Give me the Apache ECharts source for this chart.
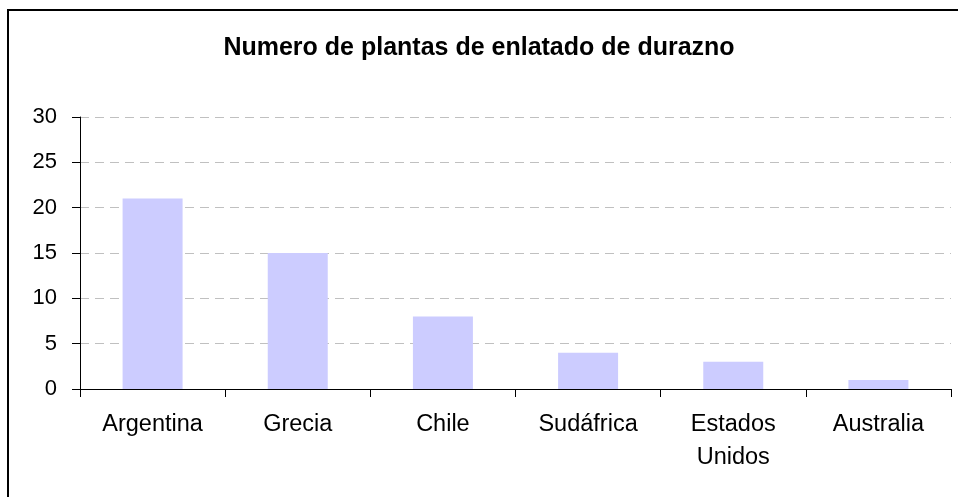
<!DOCTYPE html>
<html>
<head>
<meta charset="utf-8">
<script src="https://cdn.jsdelivr.net/npm/echarts@6/dist/echarts.min.js"></script>
<style>
  html, body { margin: 0; padding: 0; background: #fff; }
  #chart { width: 958px; height: 497px; }
</style>
</head>
<body>
<div id="chart"></div>
<script>
// datos del grafico
var paises = ['Argentina', 'Grecia', 'Chile', 'Sudáfrica', 'Estados\nUnidos', 'Australia'];
var plantas = [21, 15, 8, 4, 3, 1];

var myChart = echarts.init(document.getElementById('chart'));

var option = {
  backgroundColor: '#fff',
  animation: false,
  title: {
    text: 'Numero de plantas de enlatado de durazno',
    left: 'center',
    top: 31,
    textStyle: {
      fontFamily: 'Liberation Sans, Arial',
      fontSize: 25,
      fontWeight: 'bold',
      color: '#000'
    }
  },
  // marco del grafico
  graphic: [
    {
      type: 'rect',
      silent: true,
      shape: { x: 8, y: 10, width: 1000, height: 1000 },
      style: { fill: 'none', stroke: '#000', lineWidth: 2 }
    }
  ],
  grid: {
    left: 80,
    right: 7,
    top: 117,
    bottom: 108
  },
  xAxis: {
    type: 'category',
    data: paises,
    axisLine: { lineStyle: { color: '#000', width: 1 } },
    axisTick: { show: true, length: 8, alignWithLabel: false, lineStyle: { color: '#000' } },
    axisLabel: {
      interval: 0,
      margin: 19,
      fontFamily: 'Liberation Sans, Arial',
      fontSize: 23.5,
      lineHeight: 33,
      color: '#000'
    }
  },
  yAxis: {
    type: 'value',
    min: 0,
    max: 30,
    interval: 5,
    axisLine: { show: true, lineStyle: { color: '#000', width: 1 } },
    axisTick: { show: true, length: 8, lineStyle: { color: '#000' } },
    axisLabel: {
      margin: 23,
      fontFamily: 'Liberation Sans, Arial',
      fontSize: 22,
      color: '#000'
    },
    splitLine: {
      show: true,
      lineStyle: { color: '#c0c0c0', type: [9, 6], width: 1 }
    }
  },
  series: [
    {
      name: 'Plantas',
      type: 'bar',
      data: plantas,
      barWidth: 60,
      itemStyle: { color: '#ccccff' }
    }
  ]
};

myChart.setOption(option);
</script>
</body>
</html>
